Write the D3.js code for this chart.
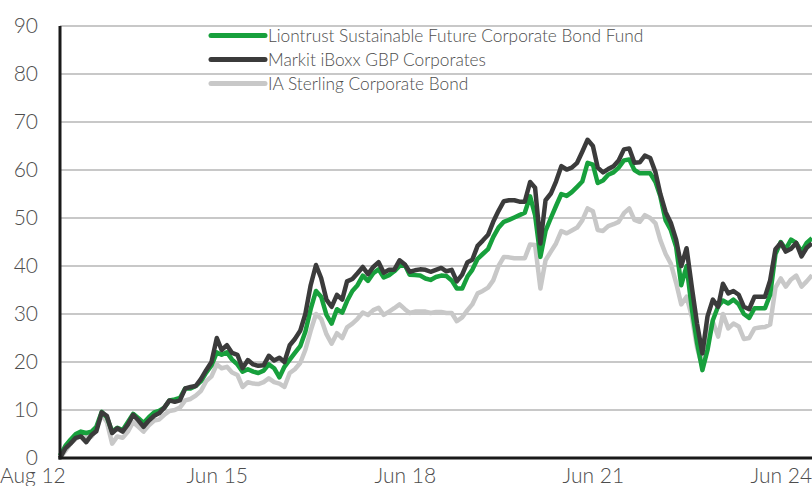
<!DOCTYPE html>
<html>
<head>
<meta charset="utf-8">
<script src="https://cdn.jsdelivr.net/npm/d3@7"></script>
<style>
  body { margin: 0; background: #fff; }
  text { font-family: Lato, "Open Sans", sans-serif; font-weight: 300; fill: #4d4d4d; }
</style>
</head>
<body>
<svg id="chart" width="812" height="486"></svg>
<script>
// monthly cumulative performance (%), Aug 2012 -> Aug 2024
const startMonth = "2012-08-31";

const liontrust = [
  0.5, 2.5, 3.8, 5, 5.5, 5.2, 5.5, 6.5, 9.6, 8.5, 5.5, 6.3, 5.8, 7.5, 9.2, 8.3, 7.3, 8.5, 9.5, 9.8,
  10.5, 12, 12.2, 12.5, 14.5, 14.5, 15, 16, 17.8, 19.3, 22, 21.5, 22, 20.5, 19.5, 18, 18.5, 18, 17.7, 18.2,
  19.5, 18.7, 16.8, 19, 20.5, 21.9, 23.3, 26.3, 31, 34.8, 33.6, 29.8, 28, 31, 30.3, 32.7, 34.8, 36, 38, 36.9,
  38.5, 39.3, 37.6, 38.1, 38.9, 40, 40.2, 38.2, 38.1, 38, 37.4, 37.1, 37.7, 38, 37.9, 37, 35.3, 35.3, 37.8, 39.2,
  41.5, 42.5, 43.5, 46, 48, 49.2, 49.6, 50.1, 50.6, 51.1, 54.5, 50.6, 41.9, 47.3, 50, 52.5, 55, 54.6, 55.4, 56.5,
  57.6, 61.5, 61.1, 57.3, 57.8, 59, 59.5, 60.5, 62, 62.2, 60, 59.3, 59.3, 59.3, 57.5, 54.5, 49.5, 47.5, 44, 36,
  40, 31, 24, 18.3, 22.5, 28.7, 31.6, 32.8, 32.2, 33, 32, 30, 29.2, 31.2, 31.2, 31.2, 34, 42.5, 45, 43.5,
  45.5, 44.8, 43, 44.8, 45.8
];

const iboxx = [
  0, 2, 3, 4.2, 4.5, 3.3, 4.8, 5.6, 9.5, 8.8, 5.2, 6.2, 5.5, 7, 9, 7.8, 6.5, 7.8, 8.8, 9.3,
  10.5, 12, 11.7, 12, 14.5, 14.8, 15, 16.5, 18.3, 20, 25, 22.5, 23.5, 21.9, 21.5, 18.7, 20.4, 19.5, 19.2, 19.3,
  21.3, 20.3, 20.9, 20, 23.5, 24.8, 26.5, 30, 36, 40.2, 37.5, 33, 31.5, 34, 33, 36.8, 37.3, 38.5, 39.8, 38.3,
  39.8, 40.8, 38.6, 39.2, 39.2, 41.2, 40.3, 38.8, 39.1, 39.3, 39.2, 38.8, 39.2, 39.6, 38.9, 39.2, 36.8, 38.2, 40.8, 41.3,
  44.2, 45.3, 46.5, 49.2, 51.5, 53.5, 53.7, 53.7, 53.4, 53.4, 57.5, 56.3, 44.7, 53.7, 55.1, 57.6, 60.8, 60.1, 60.5, 61.5,
  63.8, 66.3, 65, 60.5, 59.5, 60.2, 60.8, 62, 64.3, 64.5, 61.5, 61.6, 63, 62.5, 59.5, 55, 51.2, 49, 45.5, 40,
  43.7, 35.5, 28, 21.8, 29.5, 33, 31.5, 36.3, 34.3, 34.8, 34, 31.5, 31, 33.6, 33.6, 33.6, 37, 43.5, 44.8, 43,
  43.6, 44.8, 42, 43.8, 44.7
];

const iaSterling = [
  0, 1.5, 3, 4, 4.8, 4.5, 4.5, 6, 9, 7.5, 3, 4.5, 4.2, 5.5, 7.5, 6.5, 5.5, 6.8, 7.8, 8,
  9, 9.8, 10, 10.5, 12, 12.3, 13, 14, 16, 17, 19.5, 18.7, 19, 17.8, 17.3, 14.8, 15.8, 15.5, 15.4, 15.8,
  16.6, 15.8, 15.5, 14.8, 17.7, 18.5, 19.8, 22.5, 26.5, 30, 29, 25.8, 23.8, 26, 25, 27.2, 28, 29, 30.3, 29.8,
  30.8, 31.3, 29.8, 30.5, 31.2, 32, 31, 30.2, 30.5, 30.5, 30.5, 30.2, 30.4, 30.4, 30.2, 30.2, 28.5, 29.3, 30.8, 32,
  34.3, 34.8, 35.5, 37, 40, 41.9, 41.8, 41.6, 41.6, 41.6, 44.5, 44.4, 35.3, 41.2, 43, 44.7, 47.3, 46.8, 47.4, 48,
  49.5, 52, 51.4, 47.5, 47.3, 48.3, 48.7, 49.2, 51, 52, 49.6, 49.2, 50.6, 50, 48.9, 45.4, 42.5, 40.5, 36.5, 32,
  33.6, 29.4, 23, 19, 26, 28.4, 25.3, 30, 27, 28, 27.4, 24.8, 25, 27, 27.2, 27.3, 27.8, 35.5, 37.4, 35.7,
  37.2, 38, 35.7, 36.8, 38.1
];

const seriesNames = [
  "Liontrust Sustainable Future Corporate Bond Fund",
  "Markit iBoxx GBP Corporates",
  "IA Sterling Corporate Bond"
];
const seriesColours = ["#17a03c", "#3b3b3b", "#c8c8c8"];

const yTicks = [0, 10, 20, 30, 40, 50, 60, 70, 80, 90];
const xTickLabels = ["Aug 12", "Jun 15", "Jun 18", "Jun 21", "Jun 24"];
const xTickDates = ["2012-08-31", "2015-06-30", "2018-06-30", "2021-06-30", "2024-06-30"];

const svg = d3.select("#chart");
const margin = { top: 26, right: 0, bottom: 28, left: 60 };
const width = 812, height = 486;

const parse = d3.timeParse("%Y-%m-%d");
const start = parse(startMonth);
const dates = liontrust.map((d, i) => d3.timeMonth.offset(start, i));

const x = d3.scaleTime()
  .domain(d3.extent(dates))
  .range([margin.left, width - margin.right]);

const y = d3.scaleLinear()
  .domain([0, 90])
  .range([height - margin.bottom, margin.top]);

// gridlines
svg.append("g")
  .selectAll("line")
  .data(yTicks.filter((d) => d > 0))
  .enter()
  .append("line")
  .attr("x1", margin.left)
  .attr("x2", width - margin.right)
  .attr("y1", (d) => y(d))
  .attr("y2", (d) => y(d))
  .attr("stroke", "#c8c8c8")
  .attr("stroke-width", 2);

// y labels
svg.append("g")
  .selectAll("text")
  .data(yTicks)
  .enter()
  .append("text")
  .attr("x", 38)
  .attr("y", (d) => y(d))
  .attr("dy", "0.35em")
  .attr("text-anchor", "end")
  .attr("font-size", 21)
  .text((d) => d);

// lines, grey drawn first so the fund and index sit on top
const line = d3.line()
  .x((d, i) => x(dates[i]))
  .y((d) => y(d));

const drawOrder = [
  { values: iaSterling, colour: seriesColours[2] },
  { values: liontrust, colour: seriesColours[0] },
  { values: iboxx, colour: seriesColours[1] }
];

svg.append("g")
  .selectAll("path")
  .data(drawOrder)
  .enter()
  .append("path")
  .attr("d", (d) => line(d.values))
  .attr("fill", "none")
  .attr("stroke", (d) => d.colour)
  .attr("stroke-width", 4.5)
  .attr("stroke-linejoin", "round");

// axes lines
svg.append("line")
  .attr("x1", margin.left).attr("x2", margin.left)
  .attr("y1", y(90)).attr("y2", y(0) + 1.5)
  .attr("stroke", "#1a1a1a").attr("stroke-width", 3);
svg.append("line")
  .attr("x1", margin.left - 1.5).attr("x2", width)
  .attr("y1", y(0)).attr("y2", y(0))
  .attr("stroke", "#1a1a1a").attr("stroke-width", 3);

// x labels (first one sits flush with the left edge)
svg.append("g")
  .selectAll("text")
  .data(xTickLabels)
  .enter()
  .append("text")
  .attr("x", (d, i) => i === 0 ? 0 : x(parse(xTickDates[i])) - 20)
  .attr("y", 483)
  .attr("text-anchor", (d, i) => i === 0 ? "start" : "middle")
  .attr("font-size", 21)
  .text((d) => d);

// legend
const legend = svg.append("g")
  .selectAll("g")
  .data(seriesNames)
  .enter()
  .append("g")
  .attr("transform", (d, i) => `translate(211, ${35.5 + i * 24})`);

legend.append("line")
  .attr("x1", 0).attr("x2", 54)
  .attr("stroke", (d, i) => seriesColours[i])
  .attr("stroke-width", 5)
  .attr("stroke-linecap", "round");

legend.append("text")
  .attr("x", 57)
  .attr("dy", "0.35em")
  .attr("font-size", 17.3)
  .text((d) => d);
</script>
</body>
</html>
